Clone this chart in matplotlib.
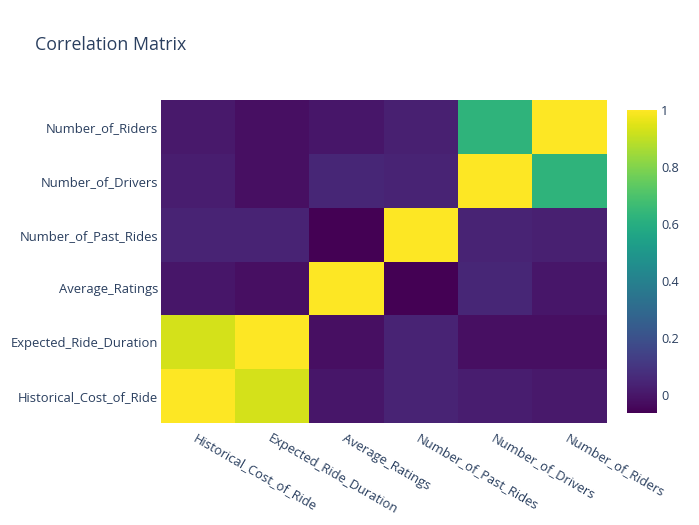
import matplotlib
matplotlib.use("Agg")
import matplotlib.pyplot as plt
import numpy as np

plt.rcParams['font.family'] = ['Open Sans', 'DejaVu Sans']

labels = ["Historical_Cost_of_Ride", "Expected_Ride_Duration", "Average_Ratings",
          "Number_of_Past_Rides", "Number_of_Drivers", "Number_of_Riders"]

hist_cost   = [1.00, 0.93, 0.00, 0.04, 0.02, 0.01]
exp_dur     = [0.93, 1.00, -0.02, 0.04, -0.02, -0.02]
avg_rating  = [0.00, -0.02, 1.00, -0.064, 0.05, 0.00]
past_rides  = [0.04, 0.04, -0.064, 1.00, 0.04, 0.03]
drivers     = [0.02, -0.02, 0.05, 0.04, 1.00, 0.63]
riders      = [0.01, -0.02, 0.00, 0.03, 0.63, 1.00]

corr = np.array([hist_cost, exp_dur, avg_rating, past_rides, drivers, riders])

TXT = '#2a3f5f'
W, H = 699, 525
fig = plt.figure(figsize=(W/100, H/100), dpi=100)

ax = fig.add_axes([161/W, 1-423/H, (607-161)/W, (423-100)/H])
vmin, vmax = corr.min(), corr.max()
im = ax.imshow(corr, cmap='viridis', origin='lower', aspect='auto',
               vmin=vmin, vmax=vmax, interpolation='nearest',
               extent=(-0.5, 5.5, -0.5, 5.5))
for s in ax.spines.values():
    s.set_visible(False)
ax.set_xticks(range(len(labels)))
ax.set_yticks(range(len(labels)))
ax.set_xticklabels(labels, rotation=-30, ha='left', va='top', rotation_mode='anchor',
                   fontsize=9.4, color=TXT)
ax.set_yticklabels(labels, fontsize=9.4, color=TXT)
ax.tick_params(length=0, pad=2)
ax.tick_params(axis='x', pad=6)

cax = fig.add_axes([627/W, 1-413/H, 30/W, (413-110)/H])
cb = fig.colorbar(im, cax=cax)
cb.outline.set_visible(False)
cb.set_ticks([0, 0.2, 0.4, 0.6, 0.8, 1.0])
cb.set_ticklabels(["0", "0.2", "0.4", "0.6", "0.8", "1"])
cax.tick_params(length=0, pad=3, labelsize=9.2, labelcolor=TXT)

fig.text(35/W, 1-45/H, "Correlation Matrix", fontsize=12.8, color=TXT, va='center', ha='left')

fig.savefig("out.png", dpi=100, facecolor='white')
